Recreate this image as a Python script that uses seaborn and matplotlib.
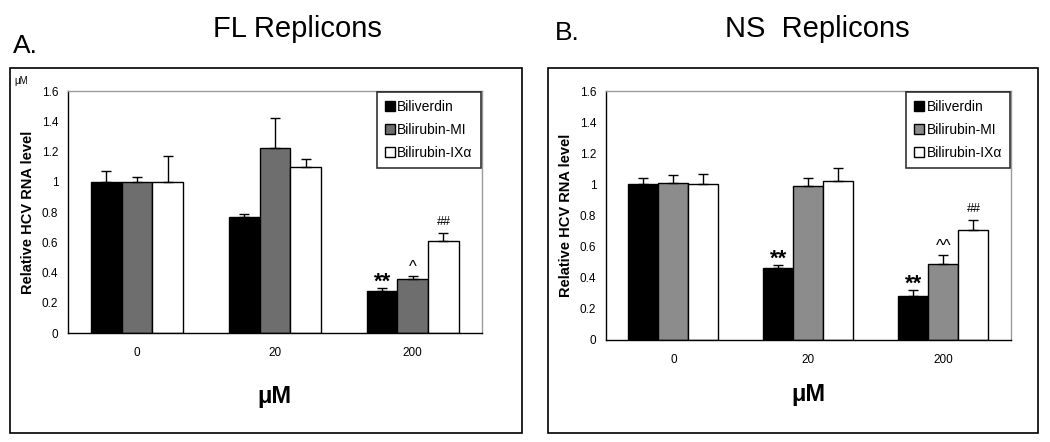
import matplotlib
matplotlib.use('Agg')
import matplotlib.pyplot as plt
from matplotlib.patches import Rectangle
import pandas as pd
import seaborn as sns

###################################
# data
doses = ['0', '20', '200']
compounds = ['Biliverdin', 'Bilirubin-MI', 'Bilirubin-IX\u03b1']

fl_biliverdin = [1.00, 0.77, 0.28]
fl_bilirubin_mi = [1.00, 1.22, 0.36]
fl_bilirubin_ix = [1.00, 1.10, 0.61]
fl_err_biliverdin = [0.07, 0.02, 0.015]
fl_err_bilirubin_mi = [0.03, 0.20, 0.017]
fl_err_bilirubin_ix = [0.17, 0.05, 0.05]

ns_biliverdin = [1.00, 0.46, 0.28]
ns_bilirubin_mi = [1.01, 0.99, 0.49]
ns_bilirubin_ix = [1.00, 1.02, 0.71]
ns_err_biliverdin = [0.04, 0.02, 0.04]
ns_err_bilirubin_mi = [0.05, 0.05, 0.055]
ns_err_bilirubin_ix = [0.065, 0.085, 0.06]

# (dose index, compound index, mark)
fl_marks = [(2, 0, '**'), (2, 1, '^'), (2, 2, '##')]
ns_marks = [(1, 0, '**'), (2, 0, '**'), (2, 1, '^^'), (2, 2, '##')]
###################################

sns.set_style('white')
plt.rcParams['font.family'] = ['Liberation Sans', 'DejaVu Sans']
for key in ['text.color', 'axes.labelcolor', 'xtick.color', 'ytick.color']:
    plt.rcParams[key] = 'black'


def make_df(a, b, c):
    rows = []
    for name, vals in zip(compounds, [a, b, c]):
        for d, v in zip(doses, vals):
            rows.append({'dose': d, 'compound': name, 'value': v})
    return pd.DataFrame(rows)


def draw_panel(ax, df, errs, marks, gray, xpad):
    palette = {compounds[0]: 'black', compounds[1]: gray, compounds[2]: 'white'}
    sns.barplot(data=df, x='dose', y='value', hue='compound', order=doses,
                hue_order=compounds, palette=palette, edgecolor='black',
                linewidth=1.0, width=0.667, errorbar=None, saturation=1,
                ax=ax)
    tops = {}
    for ci, (cont, err) in enumerate(zip(ax.containers, errs)):
        xs = [p.get_x() + p.get_width() / 2 for p in cont]
        hs = [p.get_height() for p in cont]
        ax.errorbar(xs, hs, yerr=[[0] * len(err), err], fmt='none',
                    ecolor='black', elinewidth=1, capsize=3.5, capthick=1,
                    zorder=1)
        for di in range(len(xs)):
            tops[(di, ci)] = (xs[di], hs[di] + err[di])
    for di, ci, txt in marks:
        x, y = tops[(di, ci)]
        if '*' in txt:
            ax.annotate(txt, (x, y), xytext=(0, -3), textcoords='offset points',
                        ha='center', va='bottom', fontsize=16, fontweight='bold')
        elif '^' in txt:
            ax.annotate(txt, (x, y), xytext=(0, 1), textcoords='offset points',
                        ha='center', va='bottom', fontsize=12)
        else:
            ax.annotate(txt, (x, y), xytext=(0, 4), textcoords='offset points',
                        ha='center', va='bottom', fontsize=9)

    ax.set_ylim(0, 1.6)
    ax.set_xlim(-0.5, 2.5)
    ax.set_yticks([0, 0.2, 0.4, 0.6, 0.8, 1.0, 1.2, 1.4, 1.6])
    ax.set_yticklabels(['0', '0.2', '0.4', '0.6', '0.8', '1', '1.2', '1.4', '1.6'])
    ax.set_xticks([-0.5, 0.5, 1.5, 2.5], minor=True)
    ax.tick_params(axis='x', which='major', length=0, pad=10, labelsize=8.5)
    ax.tick_params(axis='x', which='minor', length=4, direction='out', width=1)
    ax.tick_params(axis='y', length=4, direction='out', width=1, labelsize=8.5, pad=3)
    ax.set_ylabel('Relative HCV RNA level', fontsize=10.5, fontweight='bold', labelpad=5)
    ax.set_xlabel('\u03bcM', fontsize=17, fontweight='bold', labelpad=xpad)
    for s in ['left', 'bottom']:
        ax.spines[s].set_color('black')
        ax.spines[s].set_linewidth(1)
    for s in ['top', 'right']:
        ax.spines[s].set_color('#9a9a9a')
        ax.spines[s].set_linewidth(1)

    leg = ax.legend(loc='upper right', fontsize=10, frameon=True, fancybox=False,
                    handlelength=0.7, handleheight=0.7, handletextpad=0.2,
                    borderpad=0.6, labelspacing=0.65, borderaxespad=0.05)
    leg.get_frame().set_edgecolor('black')
    leg.get_frame().set_linewidth(1.2)


fig = plt.figure(figsize=(10.5, 4.42), dpi=100)
fig.patch.set_facecolor('white')

ax1 = fig.add_axes([0.0648, 0.2466, 0.394, 0.5475])
ax2 = fig.add_axes([0.5771, 0.2308, 0.3857, 0.5633])

draw_panel(ax1, make_df(fl_biliverdin, fl_bilirubin_mi, fl_bilirubin_ix),
           [fl_err_biliverdin, fl_err_bilirubin_mi, fl_err_bilirubin_ix],
           fl_marks, '#6e6e6e', 18.5)
draw_panel(ax2, make_df(ns_biliverdin, ns_bilirubin_mi, ns_bilirubin_ix),
           [ns_err_biliverdin, ns_err_bilirubin_mi, ns_err_bilirubin_ix],
           ns_marks, '#8c8c8c', 12)

# outer frames round each panel
fig.add_artist(Rectangle((0.0095, 0.0204), 0.4876, 0.826, transform=fig.transFigure,
                         fill=False, edgecolor='black', linewidth=1.2))
fig.add_artist(Rectangle((0.5219, 0.0204), 0.4667, 0.826, transform=fig.transFigure,
                         fill=False, edgecolor='black', linewidth=1.2))

fig.text(0.283, 0.935, 'FL Replicons', fontsize=21, ha='center', va='center')
fig.text(0.778, 0.935, 'NS  Replicons', fontsize=21, ha='center', va='center')
fig.text(0.012, 0.895, 'A.', fontsize=19, ha='left', va='center')
fig.text(0.528, 0.925, 'B.', fontsize=19, ha='left', va='center')
fig.text(0.014, 0.817, '\u03bcM', fontsize=7, ha='left', va='center')

plt.savefig('out.png', dpi=100)
